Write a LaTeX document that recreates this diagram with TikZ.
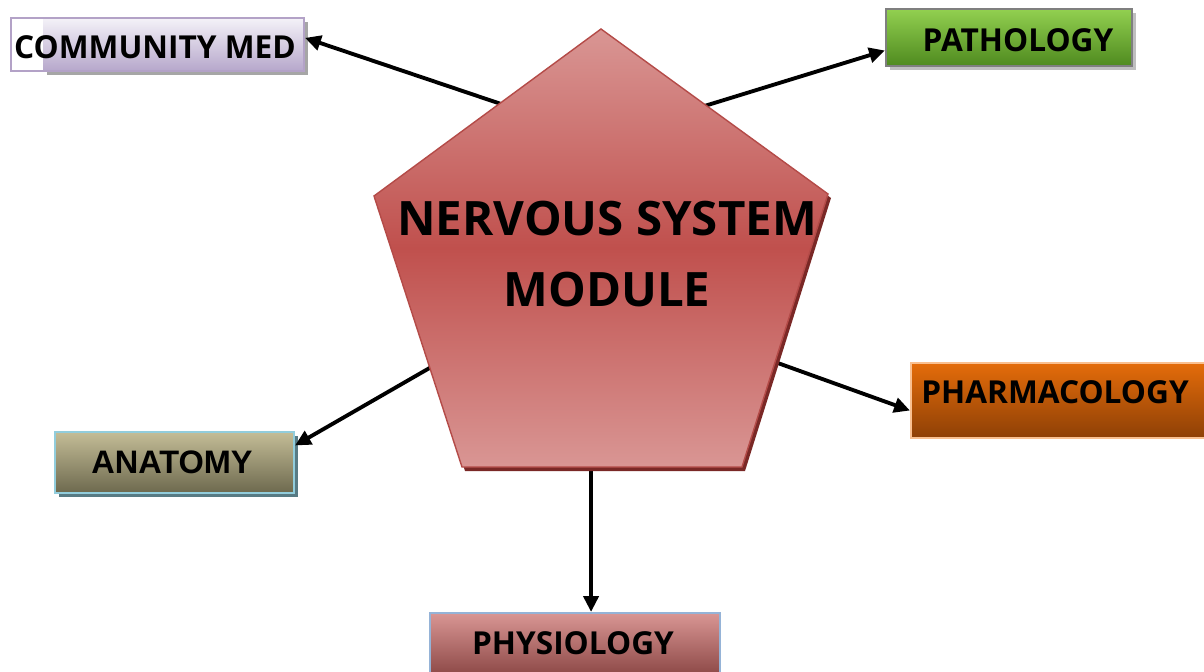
\documentclass[tikz,border=0pt]{standalone}
\usepackage{fontspec}
\setmainfont{Open Sans}
\newfontfamily\arialfont{Liberation Sans}
\usetikzlibrary{arrows.meta,shadows,calc}
\definecolor{pkA}{HTML}{D99694}
\definecolor{pkB}{HTML}{C0504D}
\definecolor{pkBorder}{HTML}{B44B48}
\definecolor{pkShadow}{HTML}{7A2826}
\definecolor{cmTop}{HTML}{F4F2F8}
\definecolor{cmBot}{HTML}{B6A7CB}
\definecolor{cmBorder}{HTML}{B3A2C7}
\definecolor{paTop}{HTML}{92D050}
\definecolor{paBot}{HTML}{4F8A1F}
\definecolor{paBorder}{HTML}{7F7F7F}
\definecolor{anTop}{HTML}{C4BD97}
\definecolor{anBot}{HTML}{6D694E}
\definecolor{anBorder}{HTML}{92CDDC}
\definecolor{phTop}{HTML}{E46C0A}
\definecolor{phBot}{HTML}{8E4006}
\definecolor{phBorder}{HTML}{FAC090}
\definecolor{pyTop}{HTML}{D99694}
\definecolor{pyBot}{HTML}{8E4A48}
\definecolor{pyBorder}{HTML}{95B3D7}
\tikzset{
  boxbase/.style={rectangle, inner sep=0pt, line width=1.2pt},
  shad/.style={drop shadow={shadow xshift=2.5pt, shadow yshift=-2.5pt, fill=#1, opacity=1}},
  lbl/.style={font=\bfseries\fontsize{18}{20}\selectfont, inner sep=0pt, text=black},
  conn/.style={line width=2.2pt, -{Triangle[length=9pt,width=8.5pt]}},
}
\begin{document}
\begin{tikzpicture}[x=0.02cm, y=-0.02cm]
\useasboundingbox (0,0) rectangle (1204,672);

% boxes
\node[boxbase, shad=black!35, top color=cmTop, bottom color=cmBot, minimum width=5.22cm, minimum height=1.06cm] (cmf) at (173.5,44.5) {};
\node[boxbase, draw=cmBorder, minimum width=5.86cm, minimum height=1.06cm] (cm) at (157.5,44.5) {};
\node[boxbase, shad=black!25, draw=paBorder, top color=paTop, bottom color=paBot, minimum width=4.92cm, minimum height=1.14cm] (patho) at (1009,37.5) {};
\node[boxbase, shad=black!40!anBorder, draw=anBorder, top color=anTop, bottom color=anBot, minimum width=4.78cm, minimum height=1.22cm] (anat) at (174.5,462.5) {};
\node[boxbase, draw=phBorder, top color=phTop, bottom color=phBot, minimum width=5.98cm, minimum height=1.5cm] (pharm) at (1060.5,400.5) {};
\node[boxbase, draw=pyBorder, top color=pyTop, bottom color=pyBot, minimum width=5.8cm, minimum height=1.22cm] (phys) at (575,643.5) {};

% labels
\node[lbl] (cmt) at (155,47) {COMMUNITY MED};
\node[lbl] (patht) at (1018,40) {PATHOLOGY};
\node[lbl, font=\arialfont\bfseries\fontsize{18.5}{20}\selectfont] (anatt) at (172,462) {ANATOMY};
\node[lbl] (pharmt) at (1055,392) {PHARMACOLOGY};
\node[lbl] (physt) at (573,643) {PHYSIOLOGY};

% arrow start points (hidden behind pentagon)
\coordinate (s1) at (510,107);
\coordinate (s2) at (698,108);
\coordinate (s3) at (440,362);
\coordinate (s4) at (768,359.5);
\coordinate (s5) at (591,460);

\draw[conn] (s1) -- ($(cm.north east)!0.38!(cm.south east)$);
\draw[conn] (s2) -- ($(patho.north west)!0.72!(patho.south west)$);
\draw[conn] (s3) -- ($(anat.north east)!0.23!(anat.south east)$);
\draw[conn] (s4) -- ($(pharm.north west)!0.63!(pharm.south west)$);
\draw[conn] (s5) -- ($(phys.north west)!0.555!(phys.north east)$);

% pentagon
\coordinate (p1) at (601,29);
\coordinate (p2) at (828,194);
\coordinate (p3) at (742,467);
\coordinate (p4) at (462,467);
\coordinate (p5) at (374,196);
\fill[pkShadow] ([shift={(3,4)}]p1) -- ([shift={(3,4)}]p2) -- ([shift={(3,4)}]p3) -- ([shift={(3,4)}]p4) -- ([shift={(3,4)}]p5) -- cycle;
\shadedraw[top color=pkA, bottom color=pkA, middle color=pkB, draw=pkBorder, line width=0.8pt]
  (p1) -- (p2) -- (p3) -- (p4) -- (p5) -- cycle;
\node[font=\bfseries\fontsize{27}{40}\selectfont, align=center, inner sep=0pt] (title) at (607,254) {NERVOUS SYSTEM\\MODULE};
\end{tikzpicture}
\end{document}
